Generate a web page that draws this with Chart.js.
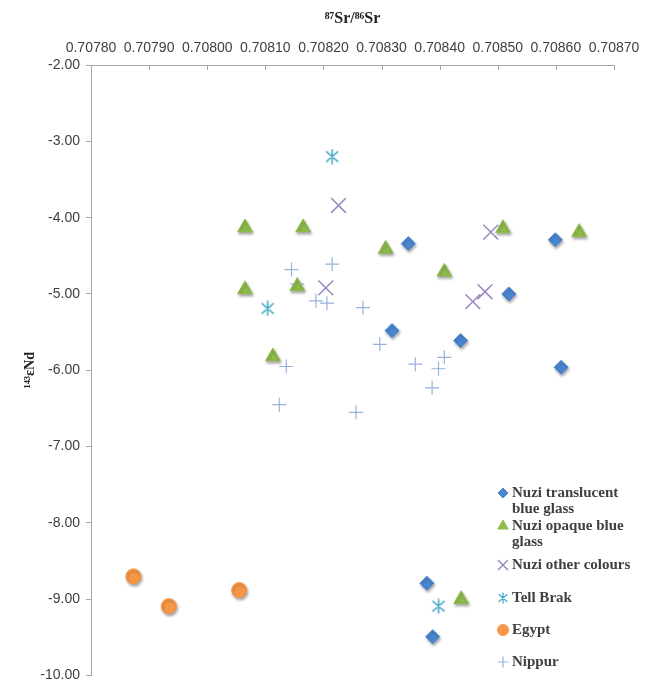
<!DOCTYPE html>
<html>
<head>
<meta charset="utf-8">
<script src="https://cdn.jsdelivr.net/npm/chart.js@4/dist/chart.umd.min.js"></script>
<style>
  html, body { margin: 0; padding: 0; background: #ffffff; }
  #wrap { position: relative; width: 648px; height: 690px; }
</style>
</head>
<body>
<div id="wrap"><canvas id="chart" width="648" height="690"></canvas></div>
<script>
// Sr / Nd isotope data for glass samples and comparison sites
const seriesNames = [
  'Nuzi translucent blue glass',
  'Nuzi opaque blue glass',
  'Nuzi other colours',
  'Tell Brak',
  'Egypt',
  'Nippur'
];

const translucentSr = [0.708346, 0.708599, 0.708519, 0.708318, 0.708436, 0.708609, 0.708378, 0.708388];
const translucentNd = [-4.34, -4.29, -5.00, -5.48, -5.61, -5.96, -8.79, -9.49];

const opaqueSr = [0.708065, 0.708165, 0.708307, 0.708509, 0.708640, 0.708408, 0.708065, 0.708155, 0.708113, 0.708437];
const opaqueNd = [-4.13, -4.13, -4.41, -4.14, -4.19, -4.71, -4.94, -4.90, -5.82, -9.00];

const otherSr = [0.708226, 0.708204, 0.708488, 0.708478, 0.708457];
const otherNd = [-3.84, -4.92, -4.19, -4.97, -5.10];

const brakSr = [0.708215, 0.708104, 0.708398];
const brakNd = [-3.20, -5.19, -9.09];

const egyptSr = [0.707873, 0.707934, 0.708055];
const egyptNd = [-8.70, -9.09, -8.88];

const nippurSr = [0.708145, 0.708215, 0.708155, 0.708187, 0.708206, 0.708268, 0.708136, 0.708124, 0.708256, 0.708297, 0.708358, 0.708408, 0.708398, 0.708387];
const nippurNd = [-4.68, -4.61, -4.87, -5.09, -5.12, -5.18, -5.95, -6.45, -6.55, -5.66, -5.92, -5.83, -5.98, -6.23];

const xTicks = [0.70780, 0.70790, 0.70800, 0.70810, 0.70820, 0.70830, 0.70840, 0.70850, 0.70860, 0.70870];
const yTicks = [-2, -3, -4, -5, -6, -7, -8, -9, -10];

const axisColor = '#a6a6a6';
const textColor = '#404040';

function pts(xs, ys) {
  return xs.map((x, i) => ({ x: x, y: ys[i] }));
}

// six-armed asterisk marker (vertical stroke plus a diagonal cross)
function asterisk(size, color, lw) {
  const c = document.createElement('canvas');
  c.width = size; c.height = size;
  const g = c.getContext('2d');
  const m = size / 2, r = size / 2 - 1;
  g.strokeStyle = color;
  g.lineWidth = lw;
  g.lineCap = 'round';
  g.beginPath();
  g.moveTo(m, m - r); g.lineTo(m, m + r);
  g.moveTo(m - r * 0.8, m - r * 0.7); g.lineTo(m + r * 0.8, m + r * 0.7);
  g.moveTo(m - r * 0.8, m + r * 0.7); g.lineTo(m + r * 0.8, m - r * 0.7);
  g.stroke();
  return c;
}

const brakColor = '#4bacc6';
const brakMarker = asterisk(16, brakColor, 1.6);
const brakLegendMarker = asterisk(12, brakColor, 1.3);

const styles = [
  { pointStyle: 'rectRot', radius: 7, bg: '#4a86d0', border: '#4a86d0', bw: 1, shadow: true },
  { pointStyle: 'triangle', radius: 8.5, bg: '#8fbc4c', border: '#8fbc4c', bw: 1, shadow: true },
  { pointStyle: 'crossRot', radius: 10.5, bg: '#9a88bd', border: '#9a88bd', bw: 1.5, shadow: false },
  { pointStyle: brakMarker, radius: 8, bg: brakColor, border: brakColor, bw: 1.5, shadow: false },
  { pointStyle: 'circle', radius: 7.5, bg: '#f79646', border: '#f79646', bw: 1, shadow: true },
  { pointStyle: 'cross', radius: 7, bg: '#97b2dc', border: '#97b2dc', bw: 1.2, shadow: false }
];

const legendStyles = [
  { pointStyle: 'rectRot', radius: 5 },
  { pointStyle: 'triangle', radius: 6 },
  { pointStyle: 'crossRot', radius: 7 },
  { pointStyle: brakLegendMarker, radius: 6 },
  { pointStyle: 'circle', radius: 5.5 },
  { pointStyle: 'cross', radius: 5.5 }
];

const legendLines = [
  ['Nuzi translucent', 'blue glass'],
  ['Nuzi opaque blue', 'glass'],
  ['Nuzi other colours'],
  ['Tell Brak'],
  ['Egypt'],
  ['Nippur']
];
const legendRowY = [493, 526, 565, 598, 630, 662];

const allData = [
  pts(translucentSr, translucentNd),
  pts(opaqueSr, opaqueNd),
  pts(otherSr, otherNd),
  pts(brakSr, brakNd),
  pts(egyptSr, egyptNd),
  pts(nippurSr, nippurNd)
];

const datasets = seriesNames.map((name, i) => ({
  label: name,
  data: allData[i],
  showLine: false,
  pointStyle: styles[i].pointStyle,
  pointRadius: styles[i].radius,
  pointHoverRadius: styles[i].radius,
  backgroundColor: styles[i].bg,
  borderColor: styles[i].border,
  pointBorderWidth: styles[i].bw,
  shadow: styles[i].shadow
}));

// soft drop shadow under the filled markers
const markerShadow = {
  id: 'markerShadow',
  beforeDatasetDraw(chart, args) {
    const ctx = chart.ctx;
    ctx.save();
    if (chart.data.datasets[args.index].shadow) {
      ctx.shadowColor = 'rgba(0,0,0,0.35)';
      ctx.shadowBlur = 3;
      ctx.shadowOffsetX = 1;
      ctx.shadowOffsetY = 2;
    }
  },
  afterDatasetDraw(chart) {
    chart.ctx.restore();
  }
};

// tick marks of the top axis point down into the plot
const innerTicks = {
  id: 'innerTicks',
  afterDraw(chart) {
    const ctx = chart.ctx;
    const sx = chart.scales.x;
    const top = chart.chartArea.top;
    ctx.save();
    ctx.strokeStyle = axisColor;
    ctx.lineWidth = 1;
    ctx.beginPath();
    xTicks.forEach(v => {
      const px = Math.round(sx.getPixelForValue(v)) + 0.5;
      ctx.moveTo(px, top);
      ctx.lineTo(px, top + 5);
    });
    ctx.stroke();
    ctx.restore();
  }
};

// legend drawn inside the plot, lower right
const insideLegend = {
  id: 'insideLegend',
  afterDraw(chart) {
    const ctx = chart.ctx;
    const mx = 503, tx = 512, lh = 16;
    ctx.save();
    ctx.font = 'bold 15px "Liberation Serif", serif';
    ctx.textBaseline = 'middle';
    ctx.textAlign = 'left';
    legendLines.forEach((lines, i) => {
      const y = legendRowY[i];
      ctx.fillStyle = styles[i].bg;
      ctx.strokeStyle = styles[i].border;
      ctx.lineWidth = styles[i].bw;
      Chart.helpers.drawPoint(ctx, {
        pointStyle: legendStyles[i].pointStyle,
        radius: legendStyles[i].radius,
        rotation: 0,
        borderWidth: styles[i].bw
      }, mx, y);
      ctx.fillStyle = textColor;
      lines.forEach((t, j) => ctx.fillText(t, tx, y + j * lh));
    });
    ctx.restore();
  }
};

new Chart(document.getElementById('chart'), {
  type: 'scatter',
  data: { datasets: datasets },
  plugins: [markerShadow, innerTicks, insideLegend],
  options: {
    responsive: false,
    animation: false,
    events: [],
    layout: { padding: { top: 0, left: 0, right: 34, bottom: 9 } },
    plugins: {
      legend: { display: false },
      tooltip: { enabled: false }
    },
    scales: {
      x: {
        type: 'linear',
        position: 'top',
        min: 0.70780,
        max: 0.70870,
        afterBuildTicks(scale) { scale.ticks = xTicks.map(v => ({ value: v })); },
        afterFit(scale) { scale.height = 65; },
        grid: { display: false, drawTicks: false },
        border: { display: true, color: axisColor, width: 1 },
        ticks: {
          autoSkip: false,
          maxRotation: 0,
          padding: 8,
          color: textColor,
          font: { family: '"Liberation Sans", Arial, sans-serif', size: 14 },
          callback: v => Number(v).toFixed(5)
        },
        title: {
          display: true,
          text: '\u2078\u2077Sr/\u2078\u2076Sr',
          color: '#222222',
          font: { family: '"Liberation Serif", serif', size: 16, weight: 'bold' },
          padding: { top: 9, bottom: 0 }
        }
      },
      y: {
        type: 'linear',
        position: 'left',
        min: -10,
        max: -2,
        afterBuildTicks(scale) { scale.ticks = yTicks.map(v => ({ value: v })); },
        afterFit(scale) { scale.width = 91; },
        grid: {
          display: true,
          drawOnChartArea: false,
          drawTicks: true,
          tickLength: 5,
          color: axisColor
        },
        border: { display: true, color: axisColor, width: 1 },
        ticks: {
          padding: 6,
          color: textColor,
          font: { family: '"Liberation Sans", Arial, sans-serif', size: 14 },
          callback: v => Number(v).toFixed(2)
        },
        title: {
          display: true,
          text: '\u00b9\u2074\u00b3\u03b5Nd',
          color: '#222222',
          font: { family: '"Liberation Serif", serif', size: 14, weight: 'bold' },
          padding: { top: 22, bottom: 0 }
        }
      }
    }
  }
});
</script>
</body>
</html>
